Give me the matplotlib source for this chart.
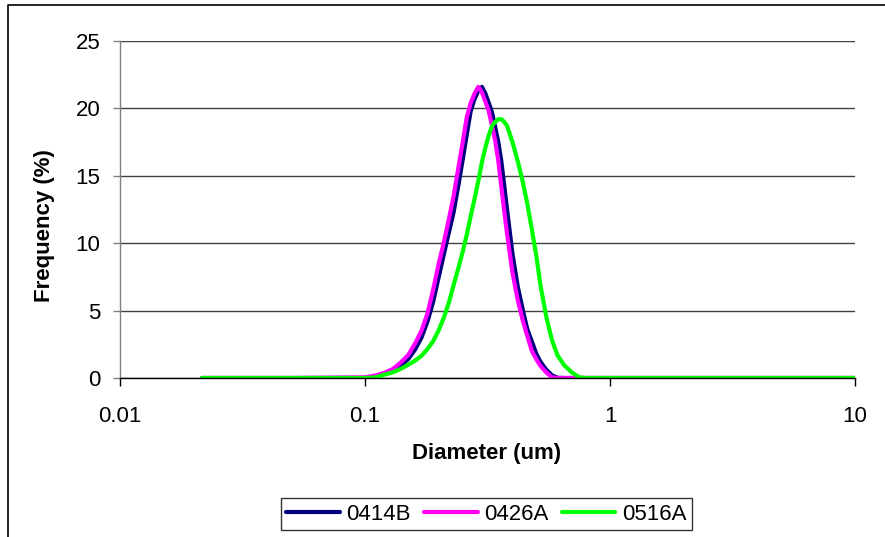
import matplotlib
matplotlib.use("Agg")
import matplotlib.pyplot as plt
from matplotlib.lines import Line2D

plt.rcParams['font.family'] = ['Liberation Sans', 'DejaVu Sans']

# Diameter bins (um)
diameter = [0.0216, 0.05, 0.10, 0.11, 0.12, 0.13, 0.14, 0.15, 0.16, 0.17, 0.18, 0.19,
            0.20, 0.21, 0.22, 0.23, 0.24, 0.25, 0.26, 0.27, 0.28, 0.29, 0.30,
            0.31, 0.32, 0.33, 0.34, 0.35, 0.36, 0.37, 0.38, 0.40, 0.42, 0.44,
            0.46, 0.48, 0.50, 0.52, 0.55, 0.58, 0.61, 0.65, 0.70, 0.75, 0.80,
            0.90, 1.0, 2.0, 5.0, 10.0]

s0414B = [0, 0, 0.0, 0.12, 0.3, 0.5, 0.95, 1.4, 2.1, 3.0, 4.2, 5.7,
          7.5, 9.2, 10.8, 12.3, 14.2, 16.1, 18.0, 19.8, 20.7, 21.3, 21.6,
          21.1, 20.4, 19.7, 18.6, 17.5, 16.1, 14.3, 12.5, 9.2, 6.8, 5.1,
          3.6, 2.7, 1.8, 1.2, 0.6, 0.2, 0.02, 0, 0, 0, 0,
          0, 0, 0, 0, 0]

s0426A = [0, 0, 0.05, 0.18, 0.38, 0.67, 1.15, 1.7, 2.55, 3.5, 4.8, 6.6,
          8.5, 10.1, 11.8, 13.5, 15.5, 17.4, 19.3, 20.4, 21.1, 21.6, 21.2,
          20.5, 19.8, 18.7, 17.6, 16.1, 14.2, 12.4, 10.7, 7.8, 5.8, 4.3,
          3.1, 2.0, 1.4, 0.9, 0.4, 0.05, 0, 0, 0, 0, 0,
          0, 0, 0, 0, 0]

s0516A = [0, 0, 0.0, 0.04, 0.25, 0.42, 0.68, 0.98, 1.28, 1.65, 2.15, 2.75,
          3.55, 4.5, 5.6, 6.9, 8.1, 9.3, 10.6, 12.0, 13.3, 14.6, 16.0,
          17.1, 18.0, 18.7, 19.0, 19.2, 19.2, 19.0, 18.7, 17.5, 16.1, 14.6,
          12.9, 11.0, 9.1, 6.9, 4.5, 2.8, 1.7, 0.95, 0.4, 0.05, 0,
          0, 0, 0, 0, 0]

series_names = ['0414B', '0426A', '0516A']
series_colors = ['#000080', '#FF00FF', '#00FF00']
x_ticks = [0.01, 0.1, 1, 10]
x_tick_labels = ['0.01', '0.1', '1', '10']
y_ticks = [0, 5, 10, 15, 20, 25]

W, H = 885, 537
fig = plt.figure(figsize=(W / 100, H / 100), dpi=100)
ax = fig.add_axes([120 / W, 1 - 378 / H, 735 / W, 337 / H])

for name, vals, col in zip(series_names, [s0414B, s0426A, s0516A], series_colors):
    ax.plot(diameter, vals, color=col, lw=3, label=name, solid_capstyle='round',
            solid_joinstyle='round', zorder=3)

ax.set_xscale('log')
ax.set_xlim(0.01, 10)
ax.set_ylim(0, 25)
ax.set_xticks(x_ticks)
ax.set_xticklabels(x_tick_labels)
ax.xaxis.set_minor_locator(matplotlib.ticker.NullLocator())
ax.set_yticks(y_ticks)

ax.grid(axis='y', color='#404040', lw=1.0)
ax.set_axisbelow(True)
for s in ['top', 'right']:
    ax.spines[s].set_visible(False)
ax.spines['left'].set_color('#808080')
ax.spines['left'].set_linewidth(1.0)
ax.spines['bottom'].set_color('black')
ax.spines['bottom'].set_linewidth(1.0)
ax.spines['bottom'].set_zorder(4)

ax.tick_params(axis='y', direction='out', length=5, width=1, color='#808080',
               labelsize=16, pad=9)
ax.tick_params(axis='x', direction='out', length=6, width=1, color='black',
               labelsize=16, pad=14)

fig.text(45 / W, 1 - 226 / H, 'Frequency (%)', rotation=90, ha='center', va='center',
         fontsize=16, fontweight='bold')
fig.text(487 / W, 1 - 453 / H, 'Diameter (um)', ha='center', va='center',
         fontsize=16, fontweight='bold')

leg = fig.legend(loc='center', bbox_to_anchor=(486.5 / W, 1 - 514 / H), ncol=3,
                 fontsize=16, frameon=True, fancybox=False, edgecolor='black',
                 handlelength=2.4, handletextpad=0.3, columnspacing=0.6,
                 borderpad=0.25, borderaxespad=0)
leg.get_frame().set_linewidth(1.0)

# Outer chart-area border (left and top visible)
fig.add_artist(Line2D([8 / W, 8 / W, 1.01], [-0.01, 1 - 5 / H, 1 - 5 / H],
                      transform=fig.transFigure, color='black', lw=1.2))

fig.savefig('out.png', dpi=100)
